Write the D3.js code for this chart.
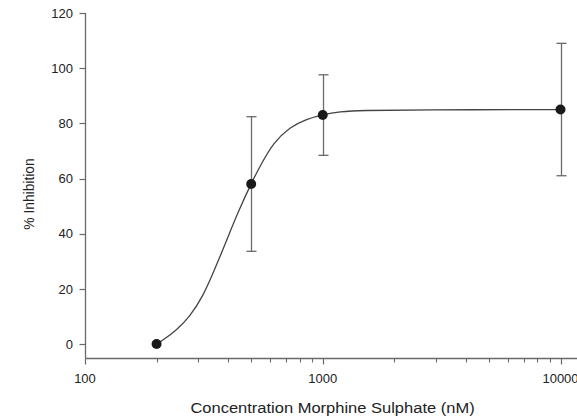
<!DOCTYPE html>
<html><head><meta charset="utf-8">
<script src="https://cdn.jsdelivr.net/npm/d3@7"></script>
<style>body{margin:0;background:#fff}svg{display:block;font-family:"Liberation Sans",Arial,sans-serif}</style>
</head><body>
<script>
const concentrations = [200, 500, 1000, 10000];
const inhibition = [0, 58, 83, 85];
const errors = [0, 24.4, 14.6, 24];
// fitted curve
const curveX = [200, 213, 243, 276, 315, 352, 401, 441, 500, 554, 619, 728, 856, 1000, 1182, 1435, 2565, 10000];
const curveY = [0, 1.4, 5.1, 9.9, 17.6, 27.2, 39.2, 47.9, 58.3, 65.6, 72.9, 78.7, 81.6, 83.2, 84.2, 84.7, 84.9, 85];
const yTicks = [0, 20, 40, 60, 80, 100, 120];
const xTicks = [100, 1000, 10000];

const W = 577, H = 418;
const svg = d3.select("body").append("svg").attr("width", W).attr("height", H);
const x = d3.scaleLog().domain([100, 10000]).range([85, 560.5]);
const y = d3.scaleLinear().domain([0, 120]).range([344, 13]);
const axisY = 358.5, axisX = 85.5;
const axCol = "#6a6a6a", txtCol = "#222";

// y axis
const ga = svg.append("g").attr("transform", `translate(${axisX},0)`);
ga.append("line").attr("y1", y(120)).attr("y2", axisY).attr("stroke", axCol).attr("stroke-width", 1.3);
ga.selectAll("line.t").data(yTicks).enter().append("line").attr("class","t")
  .attr("x1", -6).attr("x2", 0).attr("y1", d => Math.round(y(d))+0.5).attr("y2", d => Math.round(y(d))+0.5)
  .attr("stroke", axCol).attr("stroke-width", 1.2);
ga.selectAll("text").data(yTicks).enter().append("text")
  .attr("x", -12.5).attr("y", d => y(d)).attr("dy", "0.36em").attr("text-anchor", "end")
  .attr("font-size", 13).attr("fill", txtCol).text(d => d);

// x axis
const gx = svg.append("g").attr("transform", `translate(0,${axisY})`);
gx.append("line").attr("x1", axisX).attr("x2", W).attr("stroke", axCol).attr("stroke-width", 1.3);
const minor = [];
for (const dec of [100, 1000]) for (let k = 2; k <= 9; k++) minor.push(dec * k);
gx.selectAll("line.mi").data(minor).enter().append("line").attr("class","mi")
  .attr("x1", d => Math.round(x(d))+0.5).attr("x2", d => Math.round(x(d))+0.5).attr("y1", 0).attr("y2", 4)
  .attr("stroke", axCol).attr("stroke-width", 1.1);
gx.selectAll("line.ma").data(xTicks).enter().append("line").attr("class","ma")
  .attr("x1", d => Math.round(x(d))+0.5).attr("x2", d => Math.round(x(d))+0.5).attr("y1", 0).attr("y2", 6)
  .attr("stroke", axCol).attr("stroke-width", 1.2);
gx.selectAll("text").data(xTicks).enter().append("text")
  .attr("x", d => x(d)).attr("y", 24).attr("text-anchor", "middle")
  .attr("font-size", 13).attr("fill", txtCol).text(d => d);

// titles
svg.append("text").attr("transform", "translate(332.5,412.5) scale(1.065,1)").attr("text-anchor", "middle")
  .attr("font-size", 15.5).attr("fill", txtCol).text("Concentration Morphine Sulphate (nM)");
svg.append("text").attr("transform", "translate(33.5,194) rotate(-90) scale(0.92,1)").attr("text-anchor", "middle")
  .attr("font-size", 15).attr("fill", txtCol).text("% Inhibition");

// curve
const pts = curveX.map((c, i) => [x(c), y(curveY[i])]);
svg.append("path").attr("d", d3.line().curve(d3.curveBasis)(pts))
  .attr("fill", "none").attr("stroke", "#444").attr("stroke-width", 1.3);

// error bars
const data = concentrations.map((c, i) => ({c, v: inhibition[i], e: errors[i]}));
const eb = svg.append("g").attr("stroke", "#6a6a6a").attr("stroke-width", 1.3);
data.filter(d => d.e > 0).forEach(d => {
  const cx = Math.round(x(d.c)) + 0.5;
  eb.append("line").attr("x1", cx).attr("x2", cx).attr("y1", y(d.v + d.e)).attr("y2", y(d.v - d.e));
  eb.append("line").attr("x1", cx - 5).attr("x2", cx + 5).attr("y1", y(d.v + d.e)).attr("y2", y(d.v + d.e));
  eb.append("line").attr("x1", cx - 5).attr("x2", cx + 5).attr("y1", y(d.v - d.e)).attr("y2", y(d.v - d.e));
});

// points
svg.selectAll("circle").data(data).enter().append("circle")
  .attr("cx", d => x(d.c)).attr("cy", d => y(d.v)).attr("r", 5).attr("fill", "#1a1a1a");
</script>
</body></html>
